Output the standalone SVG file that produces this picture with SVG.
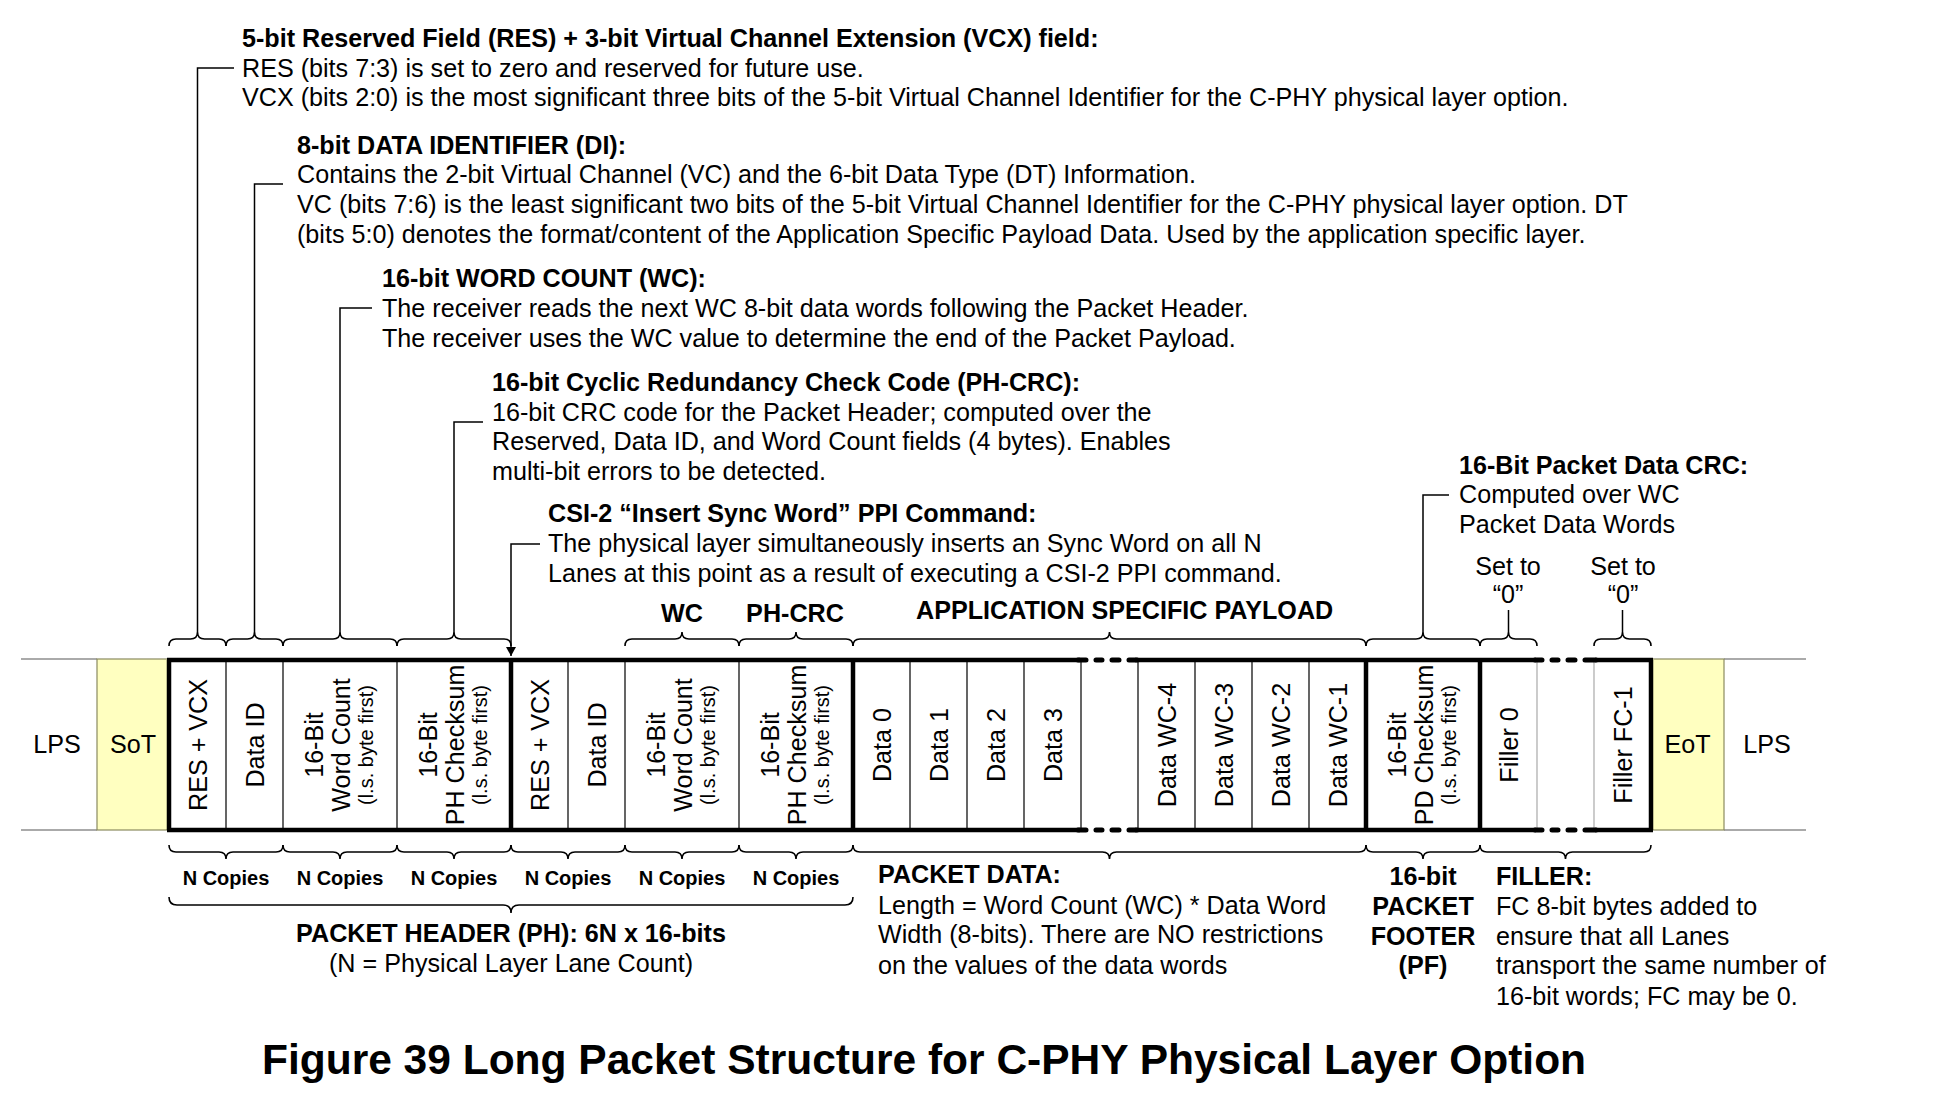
<svg xmlns="http://www.w3.org/2000/svg" width="1938" height="1108" viewBox="0 0 1938 1108">
<style>
text{font-family:"Liberation Sans",Arial,sans-serif;font-size:25.15px;fill:#000}
.b{font-weight:bold}
.m{text-anchor:middle}
.s{font-size:20px}
.n{font-size:20px;font-weight:bold;text-anchor:middle}
.ttl{font-size:42.5px;font-weight:bold;text-anchor:middle}
.br{fill:none;stroke:#000;stroke-width:1.6}
.ld{fill:none;stroke:#000;stroke-width:1.5}
.thin{stroke:#000;stroke-width:1.2}
.gthin{stroke:#aaa;stroke-width:1.2}
.thick{stroke:#000;stroke-width:4.5;fill:none}
.rnd{stroke:#000;stroke-width:5;fill:none;stroke-linecap:round}
.lane{stroke:#aaa;stroke-width:2}
.st{fill:#FFFFC0;stroke:#8a8a60;stroke-width:1.2}
</style>
<defs>
<marker id="ah" viewBox="0 0 9 10" refX="9" refY="5" markerWidth="9" markerHeight="10" markerUnits="userSpaceOnUse" orient="auto">
<path d="M0,0 L9,5 L0,10 Z" fill="#000"/>
</marker>
</defs>
<rect width="1938" height="1108" fill="#fff"/>

<g id="lanes">
<line class="lane" x1="21" y1="659" x2="97" y2="659"/>
<line class="lane" x1="21" y1="830" x2="97" y2="830"/>
<line class="lane" x1="1724" y1="659" x2="1806" y2="659"/>
<line class="lane" x1="1724" y1="830" x2="1806" y2="830"/>
<text x="57" y="753" class="m">LPS</text>
<text x="1767" y="753" class="m">LPS</text>
</g>

<g id="sot"><rect class="st" x="97" y="659" width="72" height="171"/><text x="133" y="753" class="m">SoT</text></g>
<g id="eot"><rect class="st" x="1651" y="659" width="73" height="171"/><text x="1687.5" y="753" class="m">EoT</text></g>

<g id="packet">
<g id="cell-res1"><text class="m" transform="translate(206.5,745) rotate(-90)">RES + VCX</text></g>
<g id="cell-di1"><text class="m" transform="translate(263.5,745) rotate(-90)">Data ID</text></g>
<g id="cell-wc1"><text class="m" transform="translate(323,745) rotate(-90)">16-Bit</text><text class="m" transform="translate(350,745) rotate(-90)">Word Count</text><text class="m s" transform="translate(373,745) rotate(-90)">(l.s. byte first)</text></g>
<g id="cell-ph1"><text class="m" transform="translate(437,745) rotate(-90)">16-Bit</text><text class="m" transform="translate(464,745) rotate(-90)">PH Checksum</text><text class="m s" transform="translate(487,745) rotate(-90)">(l.s. byte first)</text></g>
<g id="cell-res2"><text class="m" transform="translate(548.5,745) rotate(-90)">RES + VCX</text></g>
<g id="cell-di2"><text class="m" transform="translate(605.5,745) rotate(-90)">Data ID</text></g>
<g id="cell-wc2"><text class="m" transform="translate(665,745) rotate(-90)">16-Bit</text><text class="m" transform="translate(692,745) rotate(-90)">Word Count</text><text class="m s" transform="translate(715,745) rotate(-90)">(l.s. byte first)</text></g>
<g id="cell-ph2"><text class="m" transform="translate(779,745) rotate(-90)">16-Bit</text><text class="m" transform="translate(806,745) rotate(-90)">PH Checksum</text><text class="m s" transform="translate(829,745) rotate(-90)">(l.s. byte first)</text></g>
<g id="cell-d0"><text class="m" transform="translate(890.5,745) rotate(-90)">Data 0</text></g>
<g id="cell-d1"><text class="m" transform="translate(947.5,745) rotate(-90)">Data 1</text></g>
<g id="cell-d2"><text class="m" transform="translate(1004.5,745) rotate(-90)">Data 2</text></g>
<g id="cell-d3"><text class="m" transform="translate(1061.5,745) rotate(-90)">Data 3</text></g>
<g id="cell-dwc4"><text class="m" transform="translate(1175.5,745) rotate(-90)">Data WC-4</text></g>
<g id="cell-dwc3"><text class="m" transform="translate(1232.5,745) rotate(-90)">Data WC-3</text></g>
<g id="cell-dwc2"><text class="m" transform="translate(1289.5,745) rotate(-90)">Data WC-2</text></g>
<g id="cell-dwc1"><text class="m" transform="translate(1346.5,745) rotate(-90)">Data WC-1</text></g>
<g id="cell-pd"><text class="m" transform="translate(1406,745) rotate(-90)">16-Bit</text><text class="m" transform="translate(1433,745) rotate(-90)">PD Checksum</text><text class="m s" transform="translate(1456,745) rotate(-90)">(l.s. byte first)</text></g>
<g id="cell-f0"><text class="m" transform="translate(1517.5,745) rotate(-90)">Filler 0</text></g>
<g id="cell-fc1"><text class="m" transform="translate(1631.5,745) rotate(-90)">Filler FC-1</text></g>

<g id="separators">
<path class="thin" d="M226,660V830M283,660V830M397,660V830M568,660V830M625,660V830M739,660V830M910,660V830M967,660V830M1024,660V830M1081,660V830M1138,660V830M1195,660V830M1252,660V830M1309,660V830"/>
<path class="gthin" d="M1537,660V830M1594,660V830"/>
<path class="thick" d="M169,660V830M511,660V830M853,660V830M1366,660V830M1480,660V830M1651,660V830"/>
<path class="thick" d="M167,660H1080M1135,660H1536M1595,660H1653M167,830H1080M1135,830H1536M1595,830H1653"/>
<path class="rnd" d="M1078,660H1086M1129,660H1137M1078,830H1086M1129,830H1137M1096,660h6M1112,660h7M1096,830h6M1112,830h7"/>
<path class="rnd" d="M1535,660H1542M1585,660H1596M1535,830H1542M1585,830H1596M1552,660h6M1568,660h7M1552,830h6M1568,830h7"/>
</g>
</g>

<g id="connectors">
<path class="br" d="M169,646Q169,639 176,639H190.5Q197.5,639 197.5,632Q197.5,639 204.5,639H219Q226,639 226,646"/>
<path class="br" d="M226,646Q226,639 233,639H247.5Q254.5,639 254.5,632Q254.5,639 261.5,639H276Q283,639 283,646"/>
<path class="br" d="M283,646Q283,639 290,639H333Q340,639 340,632Q340,639 347,639H390Q397,639 397,646"/>
<path class="br" d="M397,646Q397,639 404,639H447Q454,639 454,632Q454,639 461,639H504Q511,639 511,646"/>
<path class="br" d="M625,646Q625,639 632,639H675Q682,639 682,632Q682,639 689,639H732Q739,639 739,646"/>
<path class="br" d="M739,646Q739,639 746,639H789Q796,639 796,632Q796,639 803,639H846Q853,639 853,646"/>
<path class="br" d="M853,646Q853,639 860,639H1102.5Q1109.5,639 1109.5,632Q1109.5,639 1116.5,639H1359Q1366,639 1366,646"/>
<path class="br" d="M1366,646Q1366,639 1373,639H1416Q1423,639 1423,632Q1423,639 1430,639H1473Q1480,639 1480,646"/>
<path class="br" d="M1480,646Q1480,639 1487,639H1501.5Q1508.5,639 1508.5,632Q1508.5,639 1515.5,639H1530Q1537,639 1537,646"/>
<path class="br" d="M1594,646Q1594,639 1601,639H1615.5Q1622.5,639 1622.5,632Q1622.5,639 1629.5,639H1644Q1651,639 1651,646"/>

<path class="br" d="M169,845Q169,852 176,852H219Q226,852 226,859Q226,852 233,852H276Q283,852 283,845"/>
<path class="br" d="M283,845Q283,852 290,852H333Q340,852 340,859Q340,852 347,852H390Q397,852 397,845"/>
<path class="br" d="M397,845Q397,852 404,852H447Q454,852 454,859Q454,852 461,852H504Q511,852 511,845"/>
<path class="br" d="M511,845Q511,852 518,852H561Q568,852 568,859Q568,852 575,852H618Q625,852 625,845"/>
<path class="br" d="M625,845Q625,852 632,852H675Q682,852 682,859Q682,852 689,852H732Q739,852 739,845"/>
<path class="br" d="M739,845Q739,852 746,852H789Q796,852 796,859Q796,852 803,852H846Q853,852 853,845"/>
<path class="br" d="M169,897Q169,905 177,905H503Q511,905 511,913Q511,905 519,905H845Q853,905 853,897"/>
<path class="br" d="M853,845Q853,852 860,852H1102.5Q1109.5,852 1109.5,859Q1109.5,852 1116.5,852H1359Q1366,852 1366,845"/>
<path class="br" d="M1366,845Q1366,852 1373,852H1416Q1423,852 1423,859Q1423,852 1430,852H1473Q1480,852 1480,845"/>
<path class="br" d="M1480,845Q1480,852 1487,852H1558.5Q1565.5,852 1565.5,859Q1565.5,852 1572.5,852H1644Q1651,852 1651,845"/>

<path class="ld" d="M234,68H197.5V632"/>
<path class="ld" d="M283,184H254.5V632"/>
<path class="ld" d="M372,308H340V632"/>
<path class="ld" d="M483,422H454V632"/>
<path class="ld" d="M540,544H511V656" marker-end="url(#ah)"/>
<path class="ld" d="M1449,495H1423V632"/>
<path class="ld" d="M1508.5,632V610"/>
<path class="ld" d="M1622.5,632V610"/>
</g>

<g id="note-res">
<text x="242" y="47" class="b">5-bit Reserved Field (RES) + 3-bit Virtual Channel Extension (VCX) field:</text>
<text x="242" y="77">RES (bits 7:3) is set to zero and reserved for future use.</text>
<text x="242" y="106">VCX (bits 2:0) is the most significant three bits of the 5-bit Virtual Channel Identifier for the C-PHY physical layer option.</text>
</g>
<g id="note-di">
<text x="297" y="154" class="b">8-bit DATA IDENTIFIER (DI):</text>
<text x="297" y="183">Contains the 2-bit Virtual Channel (VC) and the 6-bit Data Type (DT) Information.</text>
<text x="297" y="213">VC (bits 7:6) is the least significant two bits of the 5-bit Virtual Channel Identifier for the C-PHY physical layer option. DT</text>
<text x="297" y="243">(bits 5:0) denotes the format/content of the Application Specific Payload Data. Used by the application specific layer.</text>
</g>
<g id="note-wc">
<text x="382" y="287" class="b">16-bit WORD COUNT (WC):</text>
<text x="382" y="317">The receiver reads the next WC 8-bit data words following the Packet Header.</text>
<text x="382" y="347">The receiver uses the WC value to determine the end of the Packet Payload.</text>
</g>
<g id="note-crc">
<text x="492" y="391" class="b">16-bit Cyclic Redundancy Check Code (PH-CRC):</text>
<text x="492" y="421">16-bit CRC code for the Packet Header; computed over the</text>
<text x="492" y="450">Reserved, Data ID, and Word Count fields (4 bytes). Enables</text>
<text x="492" y="480">multi-bit errors to be detected.</text>
</g>
<g id="note-sync">
<text x="548" y="522" class="b">CSI-2 “Insert Sync Word” PPI Command:</text>
<text x="548" y="552">The physical layer simultaneously inserts an Sync Word on all N</text>
<text x="548" y="582">Lanes at this point as a result of executing a CSI-2 PPI command.</text>
</g>
<g id="note-pdcrc">
<text x="1459" y="474" class="b">16-Bit Packet Data CRC:</text>
<text x="1459" y="503">Computed over WC</text>
<text x="1459" y="533">Packet Data Words</text>
</g>
<g id="note-set0a"><text x="1508" y="575" class="m">Set to</text><text x="1508" y="603" class="m">“0”</text></g>
<g id="note-set0b"><text x="1623" y="575" class="m">Set to</text><text x="1623" y="603" class="m">“0”</text></g>
<g id="labels-top">
<text x="682" y="622" class="b m">WC</text>
<text x="795" y="622" class="b m">PH-CRC</text>
<text x="916" y="619" class="b">APPLICATION SPECIFIC PAYLOAD</text>
</g>
<g id="labels-bottom">
<text x="226" y="885" class="n">N Copies</text>
<text x="340" y="885" class="n">N Copies</text>
<text x="454" y="885" class="n">N Copies</text>
<text x="568" y="885" class="n">N Copies</text>
<text x="682" y="885" class="n">N Copies</text>
<text x="796" y="885" class="n">N Copies</text>
<text x="511" y="942" class="b m">PACKET HEADER (PH): 6N x 16-bits</text>
<text x="511" y="972" class="m">(N = Physical Layer Lane Count)</text>
</g>
<g id="note-data">
<text x="878" y="883" class="b">PACKET DATA:</text>
<text x="878" y="914">Length = Word Count (WC) * Data Word</text>
<text x="878" y="943">Width (8-bits). There are NO restrictions</text>
<text x="878" y="974">on the values of the data words</text>
</g>
<g id="note-pf">
<text x="1423" y="885" class="b m">16-bit</text>
<text x="1423" y="915" class="b m">PACKET</text>
<text x="1423" y="945" class="b m">FOOTER</text>
<text x="1423" y="974" class="b m">(PF)</text>
</g>
<g id="note-filler">
<text x="1496" y="885" class="b">FILLER:</text>
<text x="1496" y="915">FC 8-bit bytes added to</text>
<text x="1496" y="945">ensure that all Lanes</text>
<text x="1496" y="974">transport the same number of</text>
<text x="1496" y="1005">16-bit words; FC may be 0.</text>
</g>
<g id="caption"><text x="924" y="1074" class="ttl">Figure 39 Long Packet Structure for C-PHY Physical Layer Option</text></g>
</svg>
